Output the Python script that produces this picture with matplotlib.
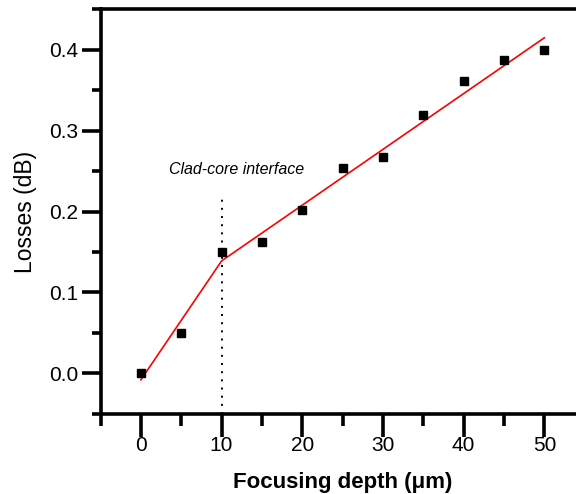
import matplotlib
matplotlib.use("Agg")
import matplotlib.pyplot as plt
from matplotlib.ticker import MultipleLocator, FormatStrFormatter

# Measured losses vs. focusing depth
depth_um = [0, 5, 10, 15, 20, 25, 30, 35, 40, 45, 50]
losses_db = [0.000, 0.050, 0.150, 0.163, 0.202, 0.254, 0.268, 0.320, 0.361, 0.387, 0.400]

# Two-segment linear fit (kink at the clad-core interface)
fit_depth = [0, 10, 50]
fit_losses = [-0.008, 0.139, 0.415]

interface_depth = 10
interface_top = 0.222
interface_label = "Clad-core interface"

plt.rcParams["font.family"] = ["Liberation Sans", "DejaVu Sans"]

fig = plt.figure(figsize=(5.76, 4.94), dpi=100)
ax = fig.add_axes([0.1745, 0.1624, 0.8406, 0.8184])

ax.plot(fit_depth, fit_losses, color="#ff0000", lw=1.2, zorder=2)
ax.plot(depth_um, losses_db, ls="none", marker="s", ms=5.2, color="black", zorder=3)
ax.plot([interface_depth, interface_depth], [-0.05, interface_top], color="black",
        lw=1.4, ls=(0, (1, 3.2)), zorder=1)
ax.text(11.8, 0.2466, interface_label, style="italic", fontsize=11.5,
        ha="center", va="baseline")

ax.set_xlim(-5, 55)
ax.set_ylim(-0.05, 0.45)
ax.xaxis.set_major_locator(MultipleLocator(10))
ax.xaxis.set_minor_locator(MultipleLocator(5))
ax.yaxis.set_major_locator(MultipleLocator(0.1))
ax.yaxis.set_minor_locator(MultipleLocator(0.05))
ax.yaxis.set_major_formatter(FormatStrFormatter("%.1f"))

for s in ax.spines.values():
    s.set_linewidth(2.6)
ax.tick_params(which="both", width=2.6, labelsize=15)
ax.tick_params(axis="x", which="major", length=16.3, pad=-0.5)
ax.tick_params(axis="x", which="minor", length=8.6)
ax.tick_params(axis="y", which="major", length=13.7, pad=2.2)
ax.tick_params(axis="y", which="minor", length=6.5)

ax.set_xlabel("Focusing depth (μm)", fontsize=16, fontweight="bold")
ax.set_ylabel("Losses (dB)", fontsize=16.5)
ax.xaxis.label.set_va("baseline")
ax.xaxis.set_label_coords(0.5, -0.184)
ax.yaxis.set_label_coords(-0.131, 0.5)

fig.savefig("out.png", dpi=100)
